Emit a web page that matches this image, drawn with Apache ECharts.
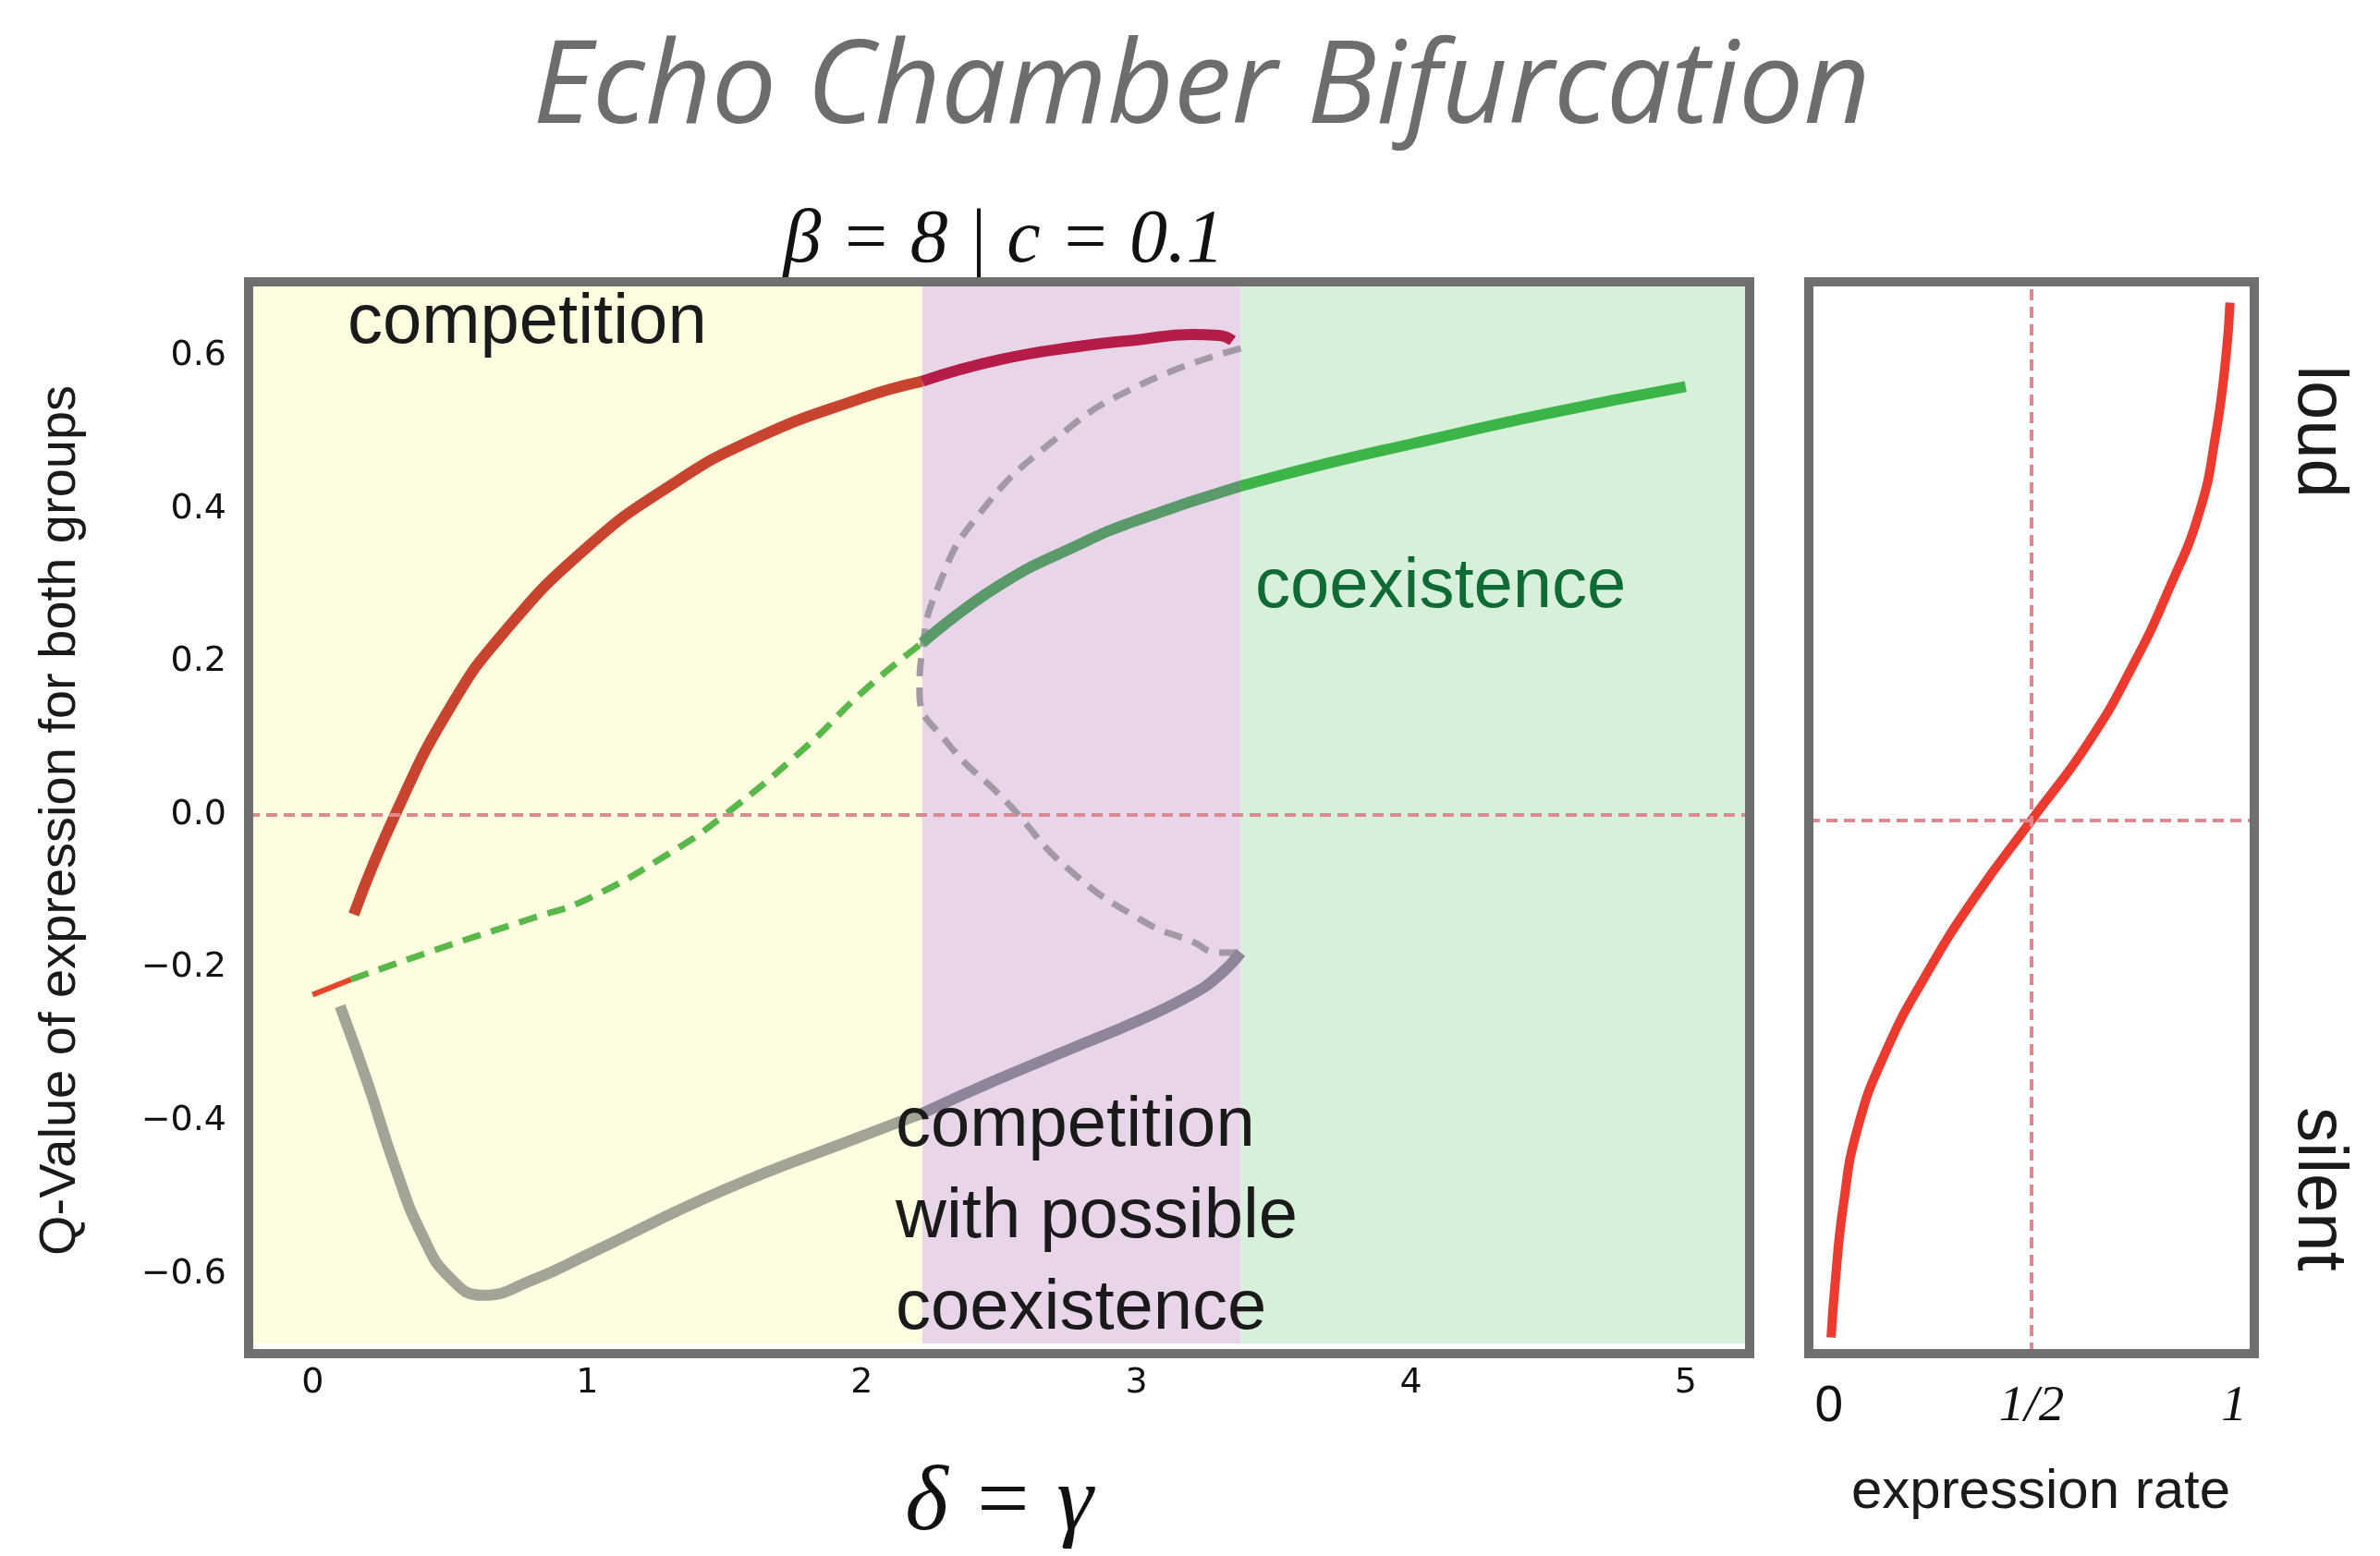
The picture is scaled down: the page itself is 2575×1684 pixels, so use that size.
<!DOCTYPE html>
<html><head><meta charset="utf-8">
<script src="https://cdn.jsdelivr.net/npm/echarts@6/dist/echarts.min.js"></script>
<style>html,body{margin:0;background:#fff}#c{width:2575px;height:1684px}</style>
</head><body><div id="c"></div>
<script>
// data
var yTicks = [-0.6, -0.4, -0.2, 0, 0.2, 0.4, 0.6];
var xTicks = [0, 1, 2, 3, 4, 5];
var regions = [[-0.3, 2.22], [2.22, 3.38], [3.38, 5.3]];
var upperYellow = [[0.15,-0.13],[0.3,0.0],[0.5,0.14],[0.7,0.24],[1.0,0.35],[1.3,0.43],[1.6,0.49],[2.0,0.545],[2.22,0.567]];
var upperPurple = [[2.22,0.567],[2.5,0.595],[2.8,0.613],[3.0,0.621],[3.2,0.628],[3.3,0.627],[3.35,0.62]];
var lowerYellow = [[0.1,-0.25],[0.2,-0.35],[0.3,-0.46],[0.4,-0.55],[0.5,-0.605],[0.62,-0.628],[0.8,-0.608],[1.0,-0.575],[1.5,-0.49],[2.0,-0.42],[2.22,-0.39]];
var lowerPurple = [[2.22,-0.39],[2.5,-0.345],[2.8,-0.30],[3.0,-0.27],[3.2,-0.235],[3.3,-0.21],[3.38,-0.18]];
var redDash = [[0,-0.235],[0.14,-0.215]];
var greenDash = [[0.14,-0.215],[0.5,-0.17],[0.8,-0.135],[1.0,-0.11],[1.3,-0.05],[1.5,0.0],[1.8,0.09],[2.0,0.16],[2.22,0.225]];
var greenPurple = [[2.22,0.225],[2.5,0.3],[2.8,0.355],[3.0,0.385],[3.38,0.43]];
var greenRight = [[3.38,0.43],[3.7,0.46],[4.0,0.485],[4.5,0.525],[5.0,0.56]];
var unstable = [[3.38,0.61],[3.0,0.56],[2.7,0.49],[2.42,0.39],[2.28,0.3],[2.22,0.215],[2.21,0.16],[2.31,0.095],[2.53,0.016],[2.75,-0.07],[3.03,-0.14],[3.2,-0.165],[3.3,-0.18],[3.38,-0.18]];
var sigY = [-0.67,-0.6,-0.5,-0.4,-0.3,-0.2,-0.1,0,0.1,0.2,0.3,0.4,0.5,0.6,0.67];
var sigX = [0.005,0.015,0.035,0.07,0.14,0.24,0.36,0.5,0.64,0.75,0.84,0.915,0.955,0.98,0.99];

var chart = echarts.init(document.getElementById('c'));
var frame = '#6f6f6f';
function line(d, color, w, dashed, z) {
  return {type:'line', data:d, xAxisIndex:0, yAxisIndex:0, symbol:'none', smooth:true, z:z||3,
    lineStyle:{color:color, width:w, type:dashed?[20,12]:'solid', cap:'butt'}};
}
var sigData = sigY.map(function(y,i){return [sigX[i], y];});
var option = {
  animation:false,
  title:[{text:'Echo Chamber Bifurcation', left:1295, top:30, textAlign:'center',
    textStyle:{fontSize:125, fontStyle:'italic', fontWeight:'normal', color:'#6d6d6d', fontFamily:'Open Sans'}},
   {text:'β = 8 | c = 0.1', left:1081, top:215, textAlign:'center',
    textStyle:{fontSize:82, fontStyle:'italic', fontWeight:'normal', color:'#111', fontFamily:'Liberation Serif'}}],
  grid:[{left:269, top:305, width:1624, height:1160, show:false},
        {left:1957, top:305, width:482, height:1160, show:false}],
  xAxis:[{type:'value', gridIndex:0, min:-0.233, max:5.233, splitLine:{show:false},
      axisLine:{show:false}, axisTick:{customValues:xTicks, length:10, lineStyle:{color:'#111', width:2}},
      axisLabel:{customValues:xTicks, fontSize:38, color:'#111', margin:24, fontFamily:'DejaVu Sans'},
      name:'δ = γ', nameLocation:'middle', nameGap:125,
      nameTextStyle:{fontSize:100, fontStyle:'italic', fontFamily:'Liberation Serif', color:'#111'}},
    {type:'value', gridIndex:1, min:-0.05, max:1.05, splitLine:{show:false}, axisLine:{show:false}, axisTick:{show:false},
      axisLabel:{customValues:[0,0.5,1], margin:30, formatter:function(v){return v===0?'{s|0}':(v===1?'{i|1}':'{i|1/2}');},
        rich:{s:{fontSize:55, fontFamily:'Liberation Sans', color:'#111'}, i:{fontSize:55, fontStyle:'italic', fontFamily:'Liberation Serif', color:'#111'}}}}],
  yAxis:[{type:'value', gridIndex:0, min:-0.691, max:0.697, splitLine:{show:false}, axisLine:{show:false},
      axisTick:{customValues:yTicks, length:10, lineStyle:{color:'#111', width:2}},
      axisLabel:{customValues:yTicks, fontSize:38, color:'#111', margin:24, fontFamily:'DejaVu Sans',
        formatter:function(v){return v.toFixed(1).replace('-','−');}}},
    {type:'value', gridIndex:1, min:-0.691, max:0.697, show:true, splitLine:{show:false}, axisLine:{show:false}, axisTick:{show:false}, axisLabel:{show:false}}],
  series:[
    {type:'line', data:[], xAxisIndex:0, yAxisIndex:0, z:1,
      markArea:{silent:true, data:[
        [{xAxis:regions[0][0], itemStyle:{color:'#fdfde0'}},{xAxis:regions[0][1]}],
        [{xAxis:regions[1][0], itemStyle:{color:'#e8d5e9'}},{xAxis:regions[1][1]}],
        [{xAxis:regions[2][0], itemStyle:{color:'#d7f0da'}},{xAxis:regions[2][1]}]]},
      markLine:{silent:true, symbol:'none', label:{show:false}, lineStyle:{color:'#e08890', width:4, type:[12,7]}, data:[{yAxis:0}]}},
    line(redDash, '#e8452a', 6, false),
    line(greenDash, '#5ab84a', 7, true),
    line(unstable, '#a298a6', 7, true),
    line(upperYellow, '#c8442e', 12, false, 4),
    line(upperPurple, '#b51c48', 12, false, 4),
    line(lowerYellow, '#a3a396', 12, false, 4),
    line(lowerPurple, '#8f8599', 12, false, 4),
    line(greenPurple, '#5a9a6a', 12, false, 4),
    line(greenRight, '#3cb548', 12, false, 4),
    {type:'line', data:sigData, xAxisIndex:1, yAxisIndex:1, symbol:'none', smooth:true,
      lineStyle:{color:'#ec3a2f', width:10},
      markLine:{silent:true, symbol:'none', label:{show:false}, lineStyle:{color:'#e08890', width:4, type:[12,7]},
        data:[{yAxis:0},{xAxis:0.5}]}}
  ],
  graphic:[
    {type:'rect', z:100, shape:{x:269, y:305, width:1624, height:1160}, style:{fill:null, stroke:frame, lineWidth:10}},
    {type:'rect', z:100, shape:{x:1957, y:305, width:482, height:1160}, style:{fill:null, stroke:frame, lineWidth:10}},
    {type:'text', z:100, x:376, y:312, style:{text:'competition', fontSize:76, fill:'#1a1a1a', fontFamily:'Liberation Sans'}},
    {type:'text', z:100, x:1358, y:598, style:{text:'coexistence', fontSize:76, fill:'#0e6b35', fontFamily:'Liberation Sans'}},
    {type:'text', z:100, x:969, y:1170, style:{text:'competition\nwith possible\ncoexistence', fontSize:76, lineHeight:99, fill:'#1a1a1a', fontFamily:'Liberation Sans'}},
    {type:'text', z:100, x:66, y:888, rotation:Math.PI/2, style:{text:'Q-Value of expression for both groups', fontSize:56, fill:'#1a1a1a', fontFamily:'Liberation Sans', align:'center', verticalAlign:'middle'}},
    {type:'text', z:100, x:2508, y:467, rotation:-Math.PI/2, style:{text:'loud', fontSize:76, fill:'#1a1a1a', fontFamily:'Liberation Sans', align:'center', verticalAlign:'middle'}},
    {type:'text', z:100, x:2508, y:1287, rotation:-Math.PI/2, style:{text:'silent', fontSize:76, fill:'#1a1a1a', fontFamily:'Liberation Sans', align:'center', verticalAlign:'middle'}},
    {type:'text', z:100, x:2208, y:1585, style:{text:'expression rate', fontSize:60, fill:'#1a1a1a', fontFamily:'Liberation Sans', align:'center'}}
  ]
};
chart.setOption(option);
</script></body></html>
